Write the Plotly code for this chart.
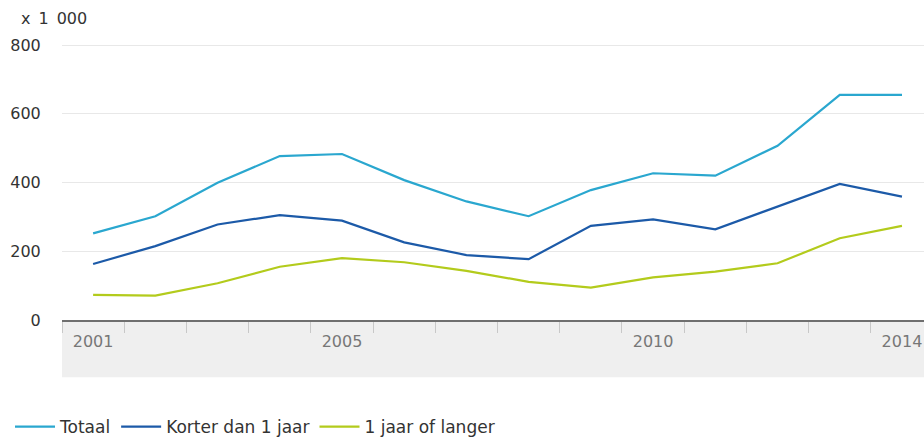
import plotly.graph_objects as go

years = list(range(2001, 2015))
totaal = [252, 302, 399, 477, 483, 407, 345, 302, 378, 427, 420, 507, 655, 655]
korter = [163, 215, 278, 305, 289, 226, 189, 177, 274, 293, 264, 330, 396, 359]
langer = [73, 71, 107, 155, 180, 168, 143, 111, 94, 124, 141, 165, 238, 274]
series_names = ["Totaal", "Korter dan 1 jaar", "1 jaar of langer"]
series_colors = ["#2aa7cf", "#1c5aa8", "#b3cb1c"]
x_labels = [2001, 2005, 2010, 2014]
y_ticks = [0, 200, 400, 600, 800]

font_family = "DejaVu Sans, Verdana, sans-serif"

fig = go.Figure()
for name, vals, col in zip(series_names, [totaal, korter, langer], series_colors):
    fig.add_trace(go.Scatter(x=years, y=vals, mode="lines", name=name,
                             line=dict(color=col, width=2.2)))

fig.add_shape(type="rect", xref="paper", yref="paper", x0=0, x1=1.0,
              y0=-57/275, y1=0, fillcolor="#efefef", line_width=0, layer="below")

fig.add_annotation(text="x\u20021\u2002000", xref="paper", yref="paper", x=-43/862, y=1 + 25/275,
                   xanchor="left", yanchor="middle", showarrow=False,
                   font=dict(size=16, color="#333", family=font_family))

fig.update_layout(
    width=924, height=437,
    margin=dict(l=62, r=0, t=44, b=117, autoexpand=False),
    paper_bgcolor="white", plot_bgcolor="white",
    font=dict(family=font_family, color="#333"),
    showlegend=True,
    legend=dict(orientation="h", x=-52/862, xanchor="left", y=-107/276, yanchor="middle",
                font=dict(size=17, color="#333"), itemwidth=40, tracegroupgap=0),
    xaxis=dict(range=[2000.5, 2014.354], tickvals=x_labels, ticktext=[str(v) for v in x_labels],
               ticks="outside", ticklen=6, tickcolor="rgba(0,0,0,0)",
               tickfont=dict(size=16, color="#777"),
               showgrid=False, zeroline=False, showline=True, linecolor="#6f6f6f", linewidth=2,
               minor=dict(tickvals=[y + 0.5 for y in range(2000, 2014)], ticks="outside",
                          ticklen=11, tickcolor="#c8c8c8", tickwidth=1, showgrid=False)),
    yaxis=dict(range=[0, 803], tickvals=y_ticks, ticks="outside", ticklen=17,
               tickcolor="rgba(0,0,0,0)", tickfont=dict(size=16, color="#333"),
               showgrid=True, gridcolor="#e8e8e8", gridwidth=1, zeroline=False,
               showline=False),
)

fig.write_html("out.html", config={"displayModeBar": False},
               post_script="document.body.style.margin='0';")
